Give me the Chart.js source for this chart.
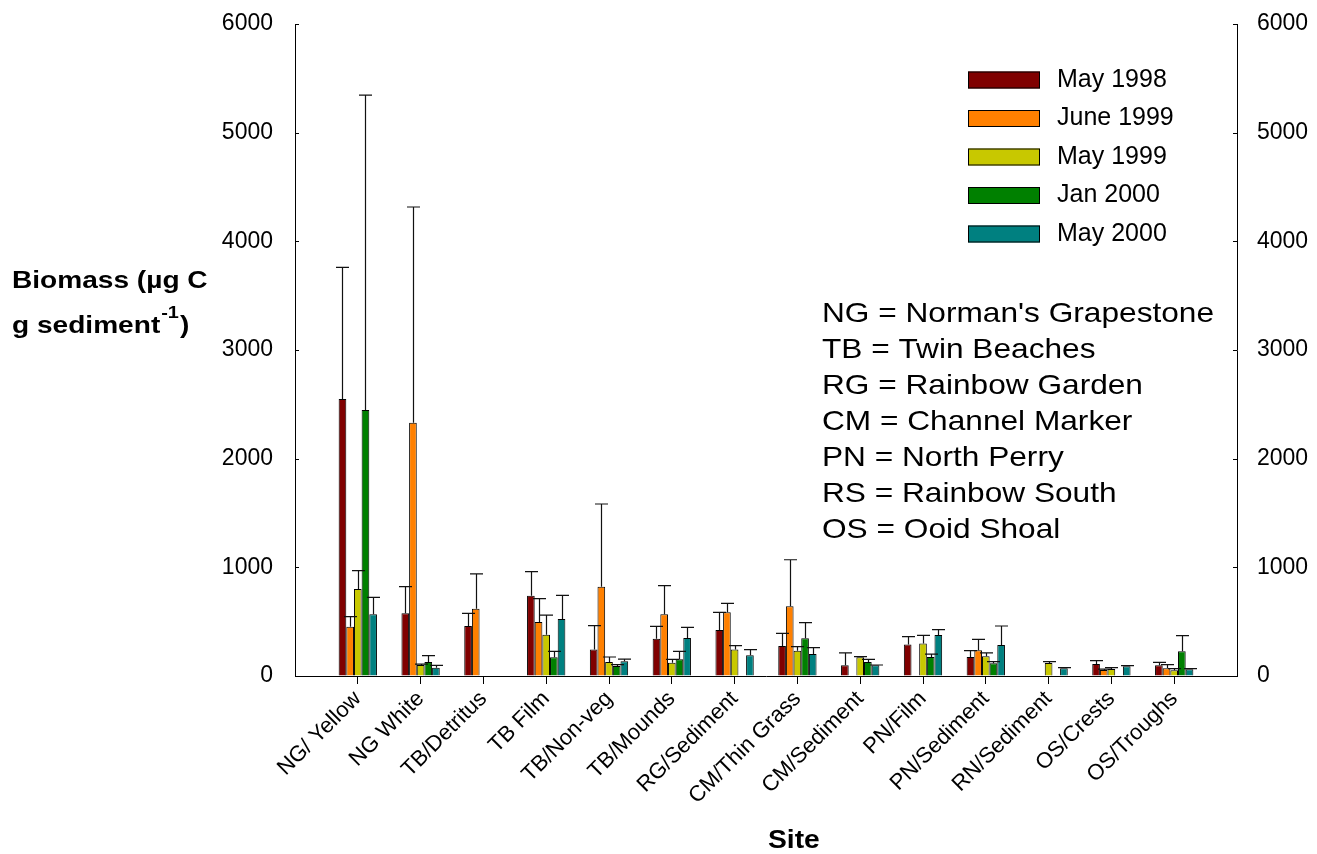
<!DOCTYPE html>
<html>
<head>
<meta charset="utf-8">
<script src="https://cdn.jsdelivr.net/npm/chart.js@4.4.1/dist/chart.umd.min.js"></script>
<style>
  body { margin: 0; background: #fff; overflow: hidden; }
  canvas { display: block; }
</style>
</head>
<body>
<canvas id="biomassChart" width="1317" height="854"></canvas>
<script>
// Sites along the x axis
const categories = ["NG/ Yellow", "NG White", "TB/Detritus", "TB Film", "TB/Non-veg", "TB/Mounds",
  "RG/Sediment", "CM/Thin Grass", "CM/Sediment", "PN/Film", "PN/Sediment", "RN/Sediment",
  "OS/Crests", "OS/Troughs"];

// Biomass means and upper error bars, one pair per sampling date
const may1998 = [2550, 577, 460, 739, 245, 343, 423, 276, 98, 291, 175, null, 110, 98];
const may1998Err = [1210, 245, 117, 221, 218, 114, 163, 117, 114, 71, 58, null, 31, 28];
const june1999 = [454, 2331, 620, 497, 822, 568, 586, 641, null, null, 236, null, 55, 71];
const june1999Err = [92, 1985, 319, 215, 761, 263, 83, 429, null, null, 101, null, 8, 33];
const may1999 = [800, 101, null, 380, 129, 123, 245, 233, 172, 300, 181, 120, 64, 52];
const may1999Err = [169, 9, null, 181, 46, 30, 34, 37, 6, 74, 31, 12, 13, 15];
const jan2000 = [2448, 129, null, 172, 92, 153, null, 347, 129, 175, 117, null, null, 227];
const jan2000Err = [2898, 58, null, 55, 12, 74, null, 144, 24, 27, 15, null, null, 144];
const may2000 = [568, 77, null, 525, 135, 350, 190, 202, 98, 377, 285, 71, 89, 61];
const may2000Err = [156, 21, null, 217, 21, 98, 52, 59, 3, 49, 175, 6, 6, 6];

const yTicks = [0, 1000, 2000, 3000, 4000, 5000, 6000];

const siteKey = [
  "NG = Norman's Grapestone",
  "TB = Twin Beaches",
  "RG = Rainbow Garden",
  "CM = Channel Marker",
  "PN = North Perry",
  "RS = Rainbow South",
  "OS = Ooid Shoal"
];

const FONT = '"Liberation Sans", Arial, sans-serif';
Chart.defaults.font.family = FONT;
Chart.defaults.color = "#000";

// empty slot at each end so the first and last site sit one step in from the axes
const pad = arr => [null, ...arr, null];
const labels = ["", ...categories, ""];

function series(label, data, err, color) {
  return {
    label: label,
    data: pad(data),
    errors: pad(err),
    backgroundColor: color,
    borderColor: "#000",
    borderWidth: 1,
    categoryPercentage: 0.61,
    barPercentage: 1.0
  };
}

// text drawn a bit wider than tall, like the original export
function wideText(ctx, text, x, y, sx) {
  ctx.save();
  ctx.translate(x, y);
  ctx.scale(sx, 1);
  ctx.fillText(text, 0, 0);
  const w = ctx.measureText(text).width * sx;
  ctx.restore();
  return w;
}

// upward error bars with caps
const errorBars = {
  id: "errorBars",
  afterDatasetsDraw(chart) {
    const ctx = chart.ctx;
    const y = chart.scales.y;
    ctx.save();
    ctx.strokeStyle = "#111";
    ctx.lineWidth = 1.2;
    chart.data.datasets.forEach((ds, i) => {
      const meta = chart.getDatasetMeta(i);
      meta.data.forEach((bar, j) => {
        const v = ds.data[j];
        const e = ds.errors[j];
        if (v == null || e == null) return;
        const top = y.getPixelForValue(v + e);
        const x = Math.round(bar.x) + 0.5;
        ctx.beginPath();
        ctx.moveTo(x, bar.y);
        ctx.lineTo(x, top);
        ctx.moveTo(x - 6.5, top);
        ctx.lineTo(x + 6.5, top);
        ctx.stroke();
      });
    });
    ctx.restore();
  }
};

// legend, site key, axis titles, inward tick marks
const decorations = {
  id: "decorations",
  afterDraw(chart) {
    const ctx = chart.ctx;
    const area = chart.chartArea;
    const y = chart.scales.y;
    ctx.save();

    // inward ticks on both y axes
    ctx.strokeStyle = "#000";
    ctx.lineWidth = 1;
    yTicks.forEach(t => {
      const py = Math.round(y.getPixelForValue(t)) + 0.5;
      ctx.beginPath();
      ctx.moveTo(area.left, py);
      ctx.lineTo(area.left + 4, py);
      ctx.moveTo(area.right, py);
      ctx.lineTo(area.right - 4, py);
      ctx.stroke();
    });

    // legend
    ctx.font = "25px " + FONT;
    ctx.textBaseline = "middle";
    ctx.textAlign = "left";
    chart.data.datasets.forEach((ds, i) => {
      const cy = 80 + i * 38.5;
      ctx.fillStyle = ds.backgroundColor;
      ctx.fillRect(968, cy - 8.5, 72, 17);
      ctx.strokeStyle = "#000";
      ctx.strokeRect(968.5, cy - 8, 71, 16);
      ctx.fillStyle = "#000";
      ctx.fillText(ds.label, 1057, cy);
    });

    // site abbreviations
    ctx.font = "28px " + FONT;
    ctx.textBaseline = "alphabetic";
    siteKey.forEach((s, i) => {
      wideText(ctx, s, 822, 322 + i * 36, 1.13);
    });

    // y axis title
    ctx.font = "bold 24px " + FONT;
    wideText(ctx, "Biomass (\u00b5g C", 12, 288, 1.17);
    const w = wideText(ctx, "g sediment", 12, 333, 1.17);
    ctx.font = "bold 17px " + FONT;
    const w2 = wideText(ctx, "-1", 12 + w + 1, 318, 1.17);
    ctx.font = "bold 24px " + FONT;
    wideText(ctx, ")", 12 + w + w2 + 2, 333, 1.17);

    // x axis title
    ctx.font = "bold 25px " + FONT;
    wideText(ctx, "Site", 768, 848, 1.13);

    ctx.restore();
  }
};

// fixed axis sizes so the plot box lands where the original has it
function fixVertical(width) {
  return s => {
    s.width = width;
    s.paddingTop = 0;
    s.paddingBottom = 0;
  };
}

const ctx = document.getElementById("biomassChart").getContext("2d");
const biomassChart = new Chart(ctx, {
  type: "bar",
  data: {
    labels: labels,
    datasets: [
      series("May 1998", may1998, may1998Err, "#800000"),
      series("June 1999", june1999, june1999Err, "#FF8000"),
      series("May 1999", may1999, may1999Err, "#C8C800"),
      series("Jan 2000", jan2000, jan2000Err, "#008000"),
      series("May 2000", may2000, may2000Err, "#008080")
    ]
  },
  options: {
    responsive: false,
    animation: false,
    layout: { padding: { top: 24, left: 0, right: 0, bottom: 0 } },
    plugins: {
      legend: { display: false },
      tooltip: { enabled: false }
    },
    scales: {
      x: {
        offset: false,
        afterFit: s => {
          s.height = 178;
          s.paddingLeft = 0;
          s.paddingRight = 0;
        },
        grid: {
          display: true,
          offset: false,
          drawOnChartArea: false,
          drawTicks: true,
          tickLength: 8,
          color: c => (c.index === 0 || c.index === labels.length - 1) ? "rgba(0,0,0,0)" : "#000"
        },
        border: { display: true, color: "#000", width: 1 },
        ticks: {
          autoSkip: false,
          maxRotation: 45,
          minRotation: 45,
          padding: 2,
          font: { size: 22 }
        }
      },
      y: {
        position: "left",
        min: 0,
        max: 6000,
        afterFit: fixVertical(295),
        afterBuildTicks: s => { s.ticks = yTicks.map(v => ({ value: v })); },
        grid: { display: true, drawOnChartArea: false, drawTicks: false },
        border: { display: true, color: "#000", width: 1 },
        ticks: { padding: 22, font: { size: 23 }, callback: v => String(v) }
      },
      y2: {
        position: "right",
        min: 0,
        max: 6000,
        afterFit: fixVertical(80),
        afterBuildTicks: s => { s.ticks = yTicks.map(v => ({ value: v })); },
        grid: { display: true, drawOnChartArea: false, drawTicks: false },
        border: { display: true, color: "#000", width: 1 },
        ticks: { padding: 20, font: { size: 23 }, callback: v => String(v) }
      }
    }
  },
  plugins: [errorBars, decorations]
});
</script>
</body>
</html>
